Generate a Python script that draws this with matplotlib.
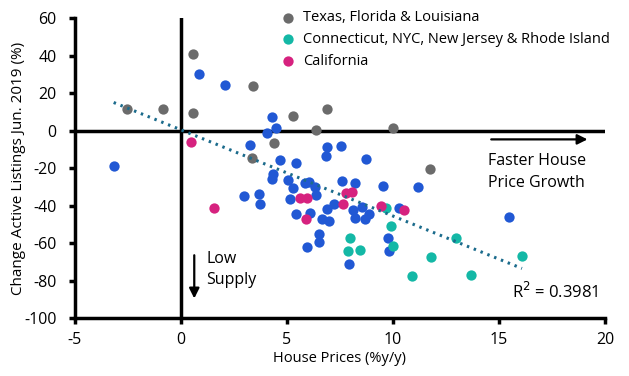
import numpy as np
import matplotlib.pyplot as plt

plt.rcParams['font.family'] = ['Open Sans', 'DejaVu Sans']
plt.rcParams['axes.unicode_minus'] = False

# Texas, Florida & Louisiana
tx_x = [-2.55, -0.86, 0.55, 0.55, 3.38, 5.27, 6.87, 6.37, 10.0, 4.37, 3.33, 11.73]
tx_y = [11.6, 11.6, 40.8, 9.5, 23.7, 7.8, 11.3, 0.3, 1.5, -6.5, -14.5, -20.5]

# Connecticut, NYC, New Jersey & Rhode Island
ne_x = [9.65, 9.9, 7.97, 7.86, 8.44, 10.0, 11.78, 10.9, 12.97, 16.08, 13.66]
ne_y = [-41.2, -50.9, -57.3, -64.1, -63.7, -61.6, -67.3, -77.4, -57.2, -66.9, -77.1]

# California
ca_x = [0.46, 1.54, 5.6, 5.96, 7.78, 8.05, 7.63, 5.9, 9.42, 10.5]
ca_y = [-6.1, -41.2, -35.8, -35.8, -33.4, -32.7, -39.2, -47.2, -40.3, -42.4]

# other metros
ot_x = [-3.17, 0.83, 2.1, 3.24, 2.96, 3.68, 3.75, 4.28, 4.48, 4.06, 4.65, 5.42,
        6.87, 6.82, 7.55, 8.71, 4.32, 4.29, 5.03, 5.28, 5.85, 6.04, 6.34, 7.58,
        8.19, 9.51, 11.17, 5.14, 6.37, 7.22, 6.89, 5.42, 6.08, 6.64, 6.98, 8.1,
        8.54, 8.19, 8.68, 8.87, 10.3, 6.49, 6.51, 5.94, 7.92, 9.75, 9.81, 15.47]
ot_y = [-18.8, 30.1, 24.3, -7.6, -34.8, -34.0, -39.2, 7.4, 1.3, -1.3, -15.7, -17.2,
        -8.6, -13.4, -8.2, -15.2, -22.9, -25.7, -26.4, -30.7, -28.2, -27.6, -30.0, -26.8,
        -28.0, -29.6, -30.3, -36.5, -34.4, -39.2, -41.9, -44.5, -43.8, -47.0, -48.3, -42.4,
        -40.6, -46.5, -47.2, -44.5, -41.2, -55.0, -59.5, -62.1, -71.2, -57.3, -64.1, -46.3]

fig = plt.figure(figsize=(6.29, 3.76), dpi=100)
ax = fig.add_axes([0.119, 0.154, 0.843, 0.798])

s = 55
ax.scatter(ot_x, ot_y, s=s, color='#2158d4', linewidths=0, zorder=3)
ax.scatter(tx_x, tx_y, s=s, color='#6b6b6b', linewidths=0, zorder=3,
           label='Texas, Florida & Louisiana')
ax.scatter(ne_x, ne_y, s=s, color='#14b8a6', linewidths=0, zorder=3,
           label='Connecticut, NYC, New Jersey & Rhode Island')
ax.scatter(ca_x, ca_y, s=s, color='#d6227f', linewidths=0, zorder=3,
           label='California')

# linear trend over all points
all_x = np.array(tx_x + ne_x + ca_x + ot_x)
all_y = np.array(tx_y + ne_y + ca_y + ot_y)
k, b = np.polyfit(all_x, all_y, 1)
xs = np.array([all_x.min(), all_x.max()])
ax.plot(xs, k * xs + b, color='#1b6b8c', lw=2.2, ls=(0, (0.8, 1.6)), zorder=4)

ax.set_xlim(-5, 20)
ax.set_ylim(-100, 60)
ax.set_xticks([-5, 0, 5, 10, 15, 20])
ax.set_yticks(range(-100, 61, 20))
ax.axhline(0, color='black', lw=2.5, zorder=2)
ax.axvline(0, color='black', lw=2.5, zorder=2)
for sp in ['top', 'right']:
    ax.spines[sp].set_visible(False)
for sp in ['left', 'bottom']:
    ax.spines[sp].set_linewidth(2.5)
ax.tick_params(width=2.5, length=4, labelsize=11.5)
ax.tick_params(axis='y', pad=9)
ax.tick_params(axis='x', pad=6)

ax.set_xlabel('House Prices (%y/y)', fontsize=10.5, labelpad=2)
ax.set_ylabel('Change Active Listings Jun. 2019 (%)', fontsize=11, labelpad=-1)

ax.annotate('', xy=(19.3, -4.7), xytext=(14.5, -4.7),
            arrowprops=dict(arrowstyle='-|>', color='black', lw=1.6, mutation_scale=15))
ax.text(14.5, -22, 'Faster House\nPrice Growth', fontsize=11.5, va='center', ha='left',
        linespacing=1.45)
ax.annotate('', xy=(0.63, -91), xytext=(0.63, -65),
            arrowprops=dict(arrowstyle='-|>', color='black', lw=1.6, mutation_scale=15))
ax.text(1.2, -74, 'Low\nSupply', fontsize=11.5, va='center', ha='left', linespacing=1.45)
ax.text(19.7, -86, 'R$^2$ = 0.3981', fontsize=12, va='center', ha='right')

ax.legend(loc='upper left', bbox_to_anchor=(0.363, 1.045), frameon=False, fontsize=10.5,
          handletextpad=0.05, labelspacing=0.45, borderaxespad=0, markerscale=1.0)

fig.savefig('out.png', dpi=100)
